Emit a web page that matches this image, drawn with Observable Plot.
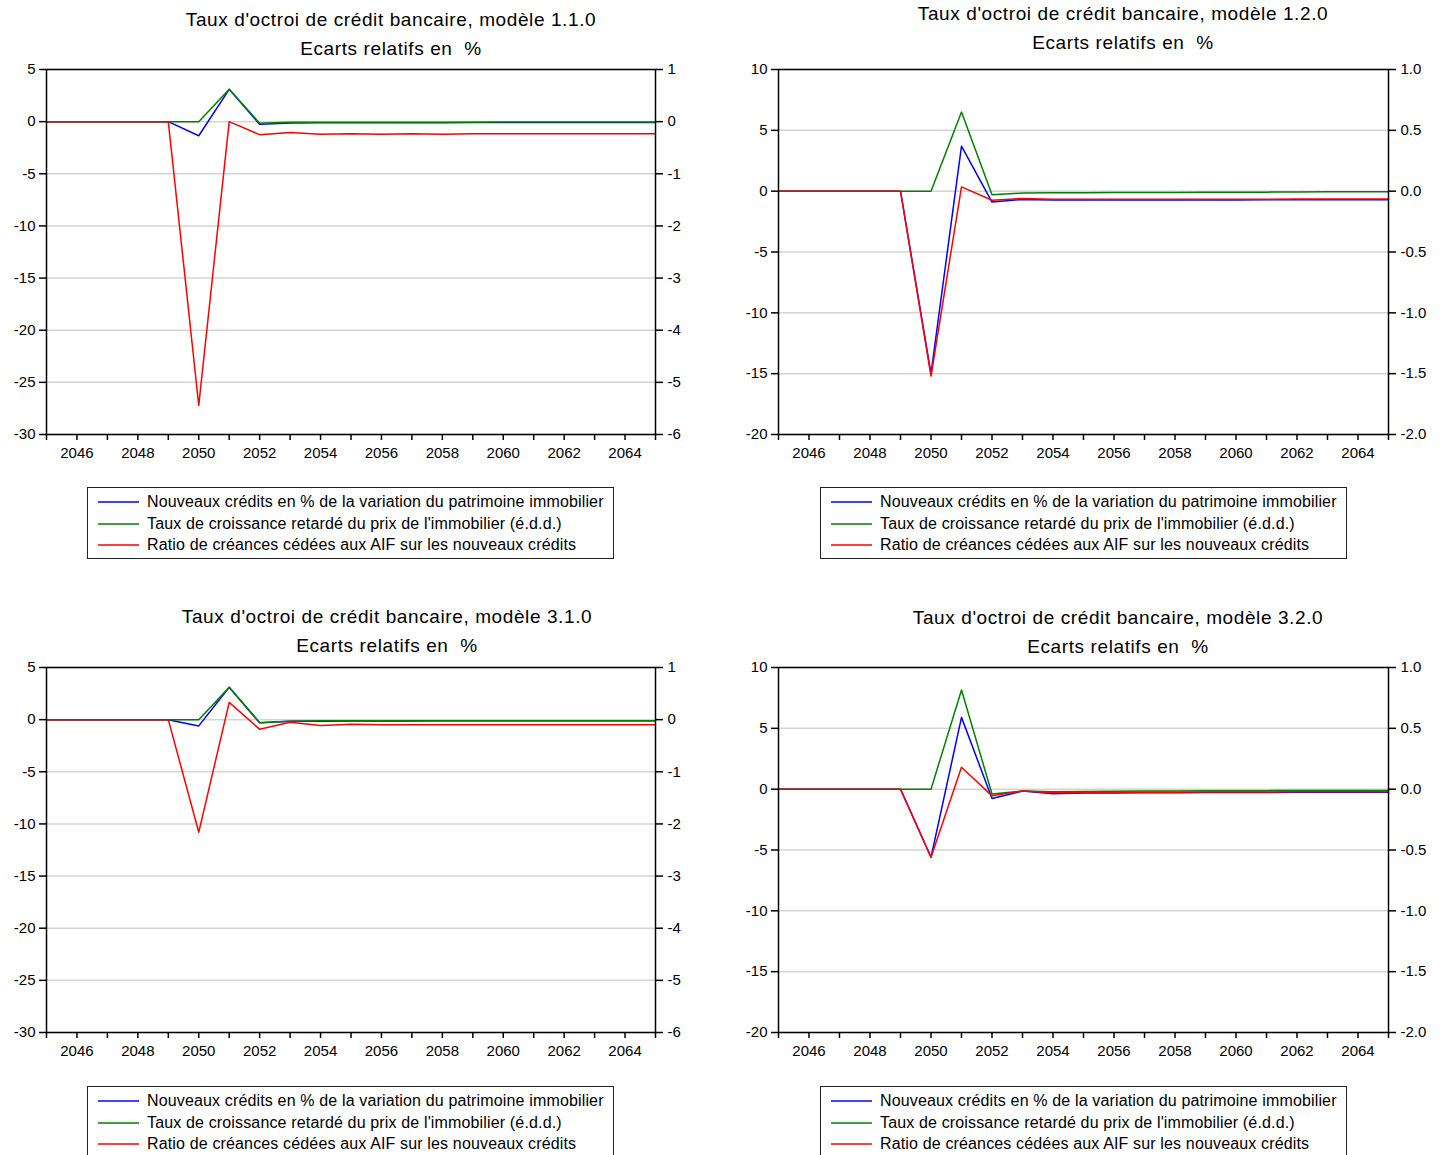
<!DOCTYPE html>
<html>
<head>
<meta charset="utf-8">
<script src="https://cdn.jsdelivr.net/npm/d3@7"></script>
<script src="https://cdn.jsdelivr.net/npm/@observablehq/plot@0.6"></script>
<style>
  body { margin: 0; background: #fff; font-family: "Liberation Sans", Arial, sans-serif; }
  #root { position: relative; width: 1443px; height: 1155px; overflow: hidden; background: #fff; }
  .panel { position: absolute; overflow: hidden; }
  .panel svg { max-width: none; display: block; }
  .title { position: absolute; width: 640px; text-align: center; font-size: 19px; letter-spacing: 0.6px;
           line-height: 29px; color: #000; white-space: pre; }
  .legend { position: absolute; width: 527px; height: 72px; border: 1px solid #222; background: #fff;
            font-size: 16px; letter-spacing: 0.15px; color: #000; box-sizing: border-box; }
  .row { position: absolute; left: 0; height: 20px; white-space: nowrap; }
  .sw { position: absolute; left: 10px; top: 0; }
  .lab { position: absolute; left: 59px; top: 0; line-height: 20px; }
</style>
</head>
<body>
<div id="root"></div>
<script>
// ---- data ----
const years = [2045, 2046, 2047, 2048, 2049, 2050, 2051, 2052, 2053, 2054, 2055,
               2056, 2057, 2058, 2059, 2060, 2061, 2062, 2063, 2064, 2065];

const seriesNames = [
  "Nouveaux crédits en % de la variation du patrimoine immobilier",
  "Taux de croissance retardé du prix de l'immobilier (é.d.d.)",
  "Ratio de créances cédées aux AIF sur les nouveaux crédits"
];
const seriesColors = ["#0000ff", "#008000", "#ff0000"];

const titles = [
  "Taux d'octroi de crédit bancaire, modèle 1.1.0",
  "Taux d'octroi de crédit bancaire, modèle 1.2.0",
  "Taux d'octroi de crédit bancaire, modèle 3.1.0",
  "Taux d'octroi de crédit bancaire, modèle 3.2.0"
];
const subtitle = "Ecarts relatifs en  %";

// left-axis series (blue, red), right-axis series (green)
const blue1  = [0,0,0,0,0,-1.35,3.1,-0.25,-0.12,-0.1,-0.1,-0.1,-0.1,-0.1,-0.08,-0.08,-0.08,-0.08,-0.08,-0.08,-0.08];
const green1 = [0,0,0,0,0,0,0.62,-0.03,-0.01,-0.01,-0.01,-0.01,-0.01,-0.01,-0.01,-0.005,-0.005,-0.005,-0.005,-0.005,-0.005];
const red1   = [0,0,0,0,0,-27.2,0,-1.25,-1.05,-1.2,-1.15,-1.2,-1.15,-1.2,-1.15,-1.15,-1.15,-1.15,-1.15,-1.15,-1.15];

const blue2  = [0,0,0,0,0,-15.0,3.7,-0.9,-0.68,-0.72,-0.72,-0.72,-0.72,-0.72,-0.72,-0.72,-0.7,-0.7,-0.7,-0.7,-0.7];
const green2 = [0,0,0,0,0,0,0.65,-0.03,-0.015,-0.012,-0.012,-0.01,-0.01,-0.01,-0.008,-0.008,-0.008,-0.006,-0.005,-0.005,-0.005];
const red2   = [0,0,0,0,0,-15.2,0.35,-0.75,-0.6,-0.66,-0.66,-0.67,-0.67,-0.67,-0.67,-0.66,-0.66,-0.65,-0.64,-0.64,-0.64];

const blue3  = [0,0,0,0,0,-0.6,3.1,-0.3,-0.15,-0.15,-0.12,-0.12,-0.12,-0.1,-0.1,-0.1,-0.1,-0.1,-0.1,-0.1,-0.1];
const green3 = [0,0,0,0,0,0,0.62,-0.06,-0.03,-0.02,-0.02,-0.02,-0.02,-0.02,-0.02,-0.02,-0.02,-0.02,-0.02,-0.02,-0.02];
const red3   = [0,0,0,0,0,-10.8,1.65,-0.93,-0.25,-0.55,-0.45,-0.5,-0.5,-0.5,-0.5,-0.5,-0.5,-0.5,-0.5,-0.5,-0.5];

const blue4  = [0,0,0,0,0,-5.6,5.9,-0.77,-0.16,-0.38,-0.32,-0.32,-0.3,-0.3,-0.28,-0.28,-0.27,-0.26,-0.25,-0.25,-0.25];
const green4 = [0,0,0,0,0,0,0.815,-0.04,-0.016,-0.022,-0.02,-0.018,-0.016,-0.015,-0.014,-0.013,-0.012,-0.011,-0.01,-0.01,-0.01];
const red4   = [0,0,0,0,0,-5.6,1.8,-0.55,-0.16,-0.3,-0.27,-0.26,-0.25,-0.25,-0.24,-0.24,-0.23,-0.22,-0.22,-0.22,-0.22];

const leftTicksA  = [5, 0, -5, -10, -15, -20, -25, -30];
const rightTicksA = [1, 0, -1, -2, -3, -4, -5, -6];
const leftTicksB  = [10, 5, 0, -5, -10, -15, -20];
const rightTicksB = ["1.0", "0.5", "0.0", "-0.5", "-1.0", "-1.5", "-2.0"];

// ---- layout ----
const panels = [
  {blue: blue1, green: green1, red: red1, lt: leftTicksA, rt: rightTicksA, title: titles[0],
   box: {left: 0, top: 60, width: 720}, ml: 46, mr: 65, tx: 391, ty: 19, lg: {left: 87, top: 487}},
  {blue: blue2, green: green2, red: red2, lt: leftTicksB, rt: rightTicksB, title: titles[1],
   box: {left: 720, top: 60, width: 708}, ml: 58, mr: 40, tx: 1123, ty: 13, lg: {left: 820, top: 487}},
  {blue: blue3, green: green3, red: red3, lt: leftTicksA, rt: rightTicksA, title: titles[2],
   box: {left: 0, top: 658, width: 720}, ml: 46, mr: 65, tx: 387, ty: 616, lg: {left: 87, top: 1086}},
  {blue: blue4, green: green4, red: red4, lt: leftTicksB, rt: rightTicksB, title: titles[3],
   box: {left: 720, top: 658, width: 708}, ml: 58, mr: 40, tx: 1118, ty: 617, lg: {left: 820, top: 1086}}
];

const root = document.getElementById("root");

function makePanel(p) {
  const yDomain = [d3.min(p.lt), d3.max(p.lt)];
  const ratio = (p.lt[0] - p.lt[1]) / (Number(p.rt[0]) - Number(p.rt[1]));
  const rightLabel = new Map(p.lt.map((v, i) => [v, String(p.rt[i])]));
  const rows = (vals, key) => years.map((y, i) => ({year: y, v: vals[i], key}));
  const blueData = rows(p.blue, "b");
  const greenData = rows(p.green, "g");
  const redData = rows(p.red, "r");

  return Plot.plot({
    width: p.box.width,
    height: 411,
    marginLeft: p.ml,
    marginRight: p.mr,
    marginTop: 9,
    marginBottom: 37,
    style: {fontFamily: "'Liberation Sans', Arial, sans-serif", fontSize: "15px", color: "#000", background: "#fff"},
    x: {domain: [2045, 2065]},
    y: {domain: yDomain},
    marks: [
      Plot.ruleY(p.lt, {stroke: "#d4d4d4", strokeWidth: 1.5}),
      Plot.axisX({ticks: years, tickSize: 6, tickPadding: 7, strokeWidth: 1.5, label: null,
                  tickFormat: d => (d % 2 === 0 ? String(d) : "")}),
      Plot.axisY({anchor: "left", ticks: p.lt, tickSize: 7, tickPadding: 4, strokeWidth: 1.5, label: null,
                  tickFormat: d => String(d)}),
      Plot.axisY({anchor: "right", ticks: p.lt, tickSize: 7, tickPadding: 5, strokeWidth: 1.5, label: null,
                  tickFormat: d => rightLabel.get(d)}),
      Plot.lineY(blueData, {x: "year", y: "v", stroke: seriesColors[0], strokeWidth: 1.5}),
      Plot.lineY(greenData, {x: "year", y: d => d.v * ratio, stroke: seriesColors[1], strokeWidth: 1.5}),
      Plot.lineY(redData, {x: "year", y: "v", stroke: seriesColors[2], strokeWidth: 1.5}),
      Plot.frame({stroke: "#000", strokeWidth: 1.5})
    ]
  });
}

const svgNS = "http://www.w3.org/2000/svg";
for (const p of panels) {
  const wrap = document.createElement("div");
  wrap.className = "panel";
  wrap.style.left = p.box.left + "px";
  wrap.style.top = p.box.top + "px";
  wrap.style.width = p.box.width + "px";
  wrap.appendChild(makePanel(p));
  root.appendChild(wrap);

  const t = document.createElement("div");
  t.className = "title";
  t.style.left = (p.tx - 320) + "px";
  t.style.top = (p.ty - 14.5) + "px";
  const l1 = document.createElement("div"); l1.textContent = p.title;
  const l2 = document.createElement("div"); l2.textContent = subtitle;
  t.appendChild(l1); t.appendChild(l2);
  root.appendChild(t);

  const lg = document.createElement("div");
  lg.className = "legend";
  lg.style.left = p.lg.left + "px";
  lg.style.top = p.lg.top + "px";
  seriesNames.forEach((name, i) => {
    const r = document.createElement("div");
    r.className = "row";
    r.style.top = Math.round(4 + i * 21.5) + "px";
    const sw = document.createElementNS(svgNS, "svg");
    sw.setAttribute("class", "sw");
    sw.setAttribute("width", "42");
    sw.setAttribute("height", "20");
    const ln = document.createElementNS(svgNS, "line");
    ln.setAttribute("x1", "0"); ln.setAttribute("x2", "41");
    ln.setAttribute("y1", "10"); ln.setAttribute("y2", "10");
    ln.setAttribute("stroke", seriesColors[i]);
    ln.setAttribute("stroke-width", "1.5");
    sw.appendChild(ln);
    const lab = document.createElement("div");
    lab.className = "lab";
    lab.textContent = name;
    r.appendChild(sw); r.appendChild(lab);
    lg.appendChild(r);
  });
  root.appendChild(lg);
}
</script>
</body>
</html>
